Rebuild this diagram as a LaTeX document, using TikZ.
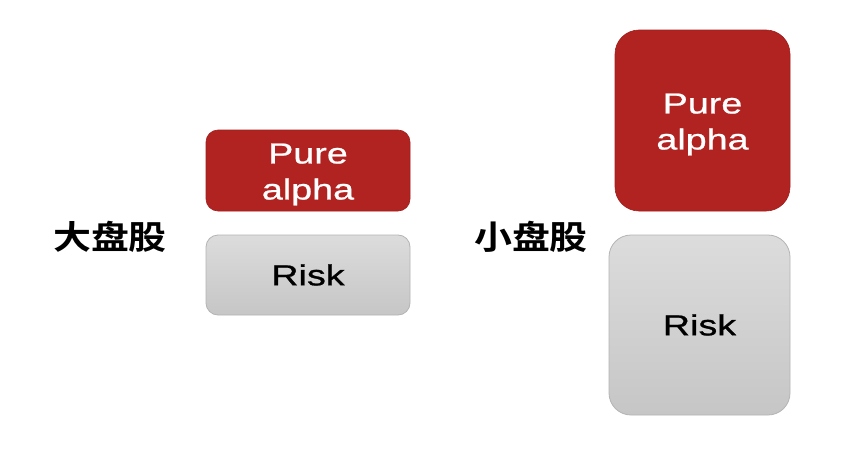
\documentclass[tikz,border=0pt]{standalone}
\usepackage{fontspec}
\setmainfont{Liberation Sans}[FakeStretch=1.3, FakeBold=0.8]
\newfontfamily\cjk{Noto Sans CJK SC}[BoldFont={Noto Sans CJK SC Bold}, FakeStretch=1.15]
\definecolor{alphared}{HTML}{B02321}
\definecolor{alphaedge}{HTML}{A01E1C}
\definecolor{risktop}{HTML}{DCDCDC}
\definecolor{riskbot}{HTML}{C6C6C6}
\definecolor{riskedge}{HTML}{B4B4B4}
\tikzset{
  alphabox/.style={draw=alphaedge, fill=alphared, line width=0.6pt, inner sep=0pt},
  alphatext/.style={text=white, align=center, font=\fontsize{29}{36}\selectfont, inner sep=0pt},
  riskbox/.style={draw=riskedge, top color=risktop, bottom color=riskbot, text=black,
    font=\fontsize{29}{36}\selectfont, inner sep=0pt, line width=0.8pt},
  cjklabel/.style={font=\cjk\bfseries\fontsize{33}{38}\selectfont, text=black, inner sep=0pt}
}
\begin{document}
\begin{tikzpicture}[x=1pt,y=-1pt]
\useasboundingbox[fill=white] (0,0) rectangle (865,463);
% large cap
\node[alphabox, rounded corners=12pt, minimum width=204pt, minimum height=81pt] (a1) at (308,170.5) {};
\node[alphatext] (t1) at (308,174.5) {Pure\\alpha};
\node[riskbox, rounded corners=12pt, minimum width=204pt, minimum height=80pt] (r1) at (308,275) {Risk};
\node[cjklabel] (l1) at (110,237) {大盘股};
% small cap
\node[alphabox, rounded corners=24pt, minimum width=175pt, minimum height=181pt] (a2) at (702.5,120.5) {};
\node[alphatext] (t2) at (702.5,124.5) {Pure\\alpha};
\node[riskbox, rounded corners=22pt, minimum width=181pt, minimum height=180pt] (r2) at (699.5,325) {Risk};
\node[cjklabel] (l2) at (531,237) {小盘股};
\end{tikzpicture}
\end{document}
